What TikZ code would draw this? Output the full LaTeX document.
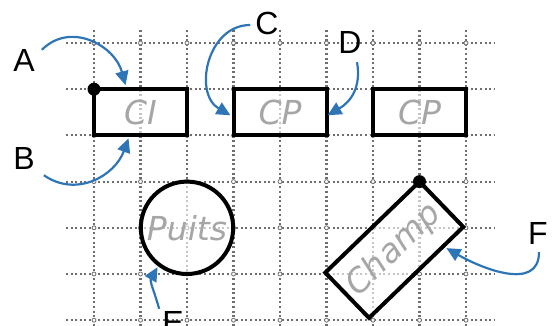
\documentclass[tikz,border=0pt]{standalone}
\usepackage{fontspec}
\setmainfont{Liberation Sans}
\newfontfamily\handfont{DejaVu Sans}
\usetikzlibrary{arrows.meta,calc}
\definecolor{arrowblue}{HTML}{2E75B6}
\definecolor{gridgray}{HTML}{6E6E6E}
\definecolor{textgray}{HTML}{A6A6A6}
\tikzset{
  gridline/.style={gridgray, line width=2.1pt, dash pattern=on 2pt off 2.6pt},
  gridknot/.style={gridgray, line width=0.8pt, fill=white},
  shapebox/.style={draw=black, line width=4pt, fill=white, fill opacity=0.6, text opacity=1,
    inner sep=0pt, outer sep=0pt, text=textgray,
    font=\handfont\itshape\fontsize{33}{33}\selectfont},
  lbl/.style={font=\fontsize{32}{32}\selectfont, inner sep=0pt, text=black},
  callout/.style={arrowblue, line width=2.2pt, -{Triangle[length=14pt,width=13pt]}},
  cornerdot/.style={circle, fill=black, minimum size=13pt, inner sep=0pt}
}
\begin{document}
\begin{tikzpicture}[x=1pt,y=-1pt]
\useasboundingbox (0,0) rectangle (557,326);
% grid
\foreach \i in {0,...,8}{
  \draw[gridline] ({94+46.5*\i},30) -- ({94+46.5*\i},330);
}
\foreach \j in {0,...,6}{
  \draw[gridline] (66,{43+46.2*\j}) -- (495,{43+46.2*\j});
}
\foreach \i in {0,...,8}{
  \foreach \j in {0,...,6}{
    \draw[gridknot] ({94+46.5*\i},{43+46.2*\j}) circle (2pt);
  }
}
% shapes
\node[shapebox, minimum width=93pt, minimum height=46.2pt] (ci) at (140.5,112.3) {CI};
\node[shapebox, minimum width=93pt, minimum height=46.2pt] (cp1) at (280,112.3) {CP};
\node[shapebox, minimum width=93pt, minimum height=46.2pt] (cp2) at (419.5,112.3) {CP};
\node[shapebox, circle, minimum size=92.4pt] (puits) at (187,227.8) {Puits};
\node[shapebox, minimum width=131pt, minimum height=63pt, rotate=44, anchor=north east] (champ) at (419.5,181.6) {Champ};
\node[cornerdot] (dot1) at (ci.north west) {};
\node[cornerdot] (dot2) at (champ.north east) {};
% labels
\node[lbl] (A) at (24,60) {A};
\node[lbl] (B) at (24,158) {B};
\node[lbl] (C) at (267,23) {C};
\node[lbl] (D) at (350,42) {D};
\node[lbl] (E) at (173,322) {E};
\node[lbl] (F) at (538,233) {F};
% callouts
\draw[callout] ([shift={(7,1)}]A.north east) to[out=45,in=105,looseness=1.15] ([shift={(-15,-4)}]ci.north);
\draw[callout] ([shift={(9,6)}]B.south east) to[out=-35,in=-110,looseness=1.1] ([shift={(-12,3)}]ci.south);
\draw[callout] ([shift={(-5,2)}]C.west) to[out=180,in=150,looseness=1.2] ([shift={(-3,3)}]cp1.west);
\draw[callout] ([shift={(7,9)}]D.south) to[out=-80,in=30,looseness=1.1] ([shift={(1,3)}]cp1.east);
\draw[callout] ([shift={(-3,-2)}]E.north west) to[out=105,in=240] ([shift={(-1,3)}]puits.232);
\draw[callout] ([shift={(1,8)}]F.south) to[out=-90,in=-30,looseness=1.1] ([shift={(2,3)}]$(champ.south east)!0.2!(champ.south west)$);
\end{tikzpicture}
\end{document}
